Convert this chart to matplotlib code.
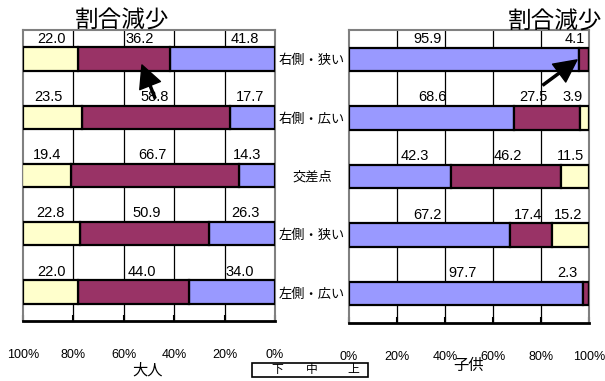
import matplotlib
matplotlib.use("Agg")
import matplotlib.pyplot as plt
from matplotlib.patches import Rectangle

plt.rcParams["font.family"] = ["Liberation Sans", "Noto Sans CJK JP"]

# ── DATA ──────────────────────────────────────────────────────────────────────
CATEGORIES = ["右側・狭い", "右側・広い", "交差点", "左側・狭い", "左側・広い"]

# 大人 (下 / 中 / 上)
ADULT_LOW  = [22.0, 23.5, 19.4, 22.8, 22.0]
ADULT_MID  = [36.2, 58.8, 66.7, 50.9, 44.0]
ADULT_HIGH = [41.8, 17.7, 14.3, 26.3, 34.0]

# 子供 (下 / 中 / 上)
CHILD_LOW  = [0.0, 3.9, 11.5, 15.2, 0.0]
CHILD_MID  = [4.1, 27.5, 46.2, 17.4, 2.3]
CHILD_HIGH = [95.9, 68.6, 42.3, 67.2, 97.7]

X_TICKS = [0, 20, 40, 60, 80, 100]
LEGEND_LABELS = ["下", "中", "上"]

# ── LAYOUT (label positions in % as placed by hand in the original) ─────────
ADULT_LABEL_X = [[88.5, 53.6, 11.9], [90.0, 47.6, 9.9], [90.5, 48.8, 11.1],
                 [89.3, 50.8, 11.9], [88.5, 52.8, 13.9]]      # low, mid, high
CHILD_LABEL_X = [[None, 94.2, 32.9], [93.3, 76.7, 34.6], [92.1, 66.3, 27.5],
                 [91.3, 74.6, 32.5], [None, 90.8, 47.5]]      # low, mid, high
LABEL_DY = -0.35

C_LOW  = "#FFFFCC"
C_MID  = "#993366"
C_HIGH = "#9999FF"
FRAME  = "#808080"

W, H = 605, 381
fig = plt.figure(figsize=(W / 100, H / 100), dpi=100)


def px_axes(x0, y0, x1, y1):
    return fig.add_axes([x0 / W, 1 - y1 / H, (x1 - x0) / W, (y1 - y0) / H])


def draw_panel(ax, low, mid, high, label_x, invert):
    y = range(len(CATEGORIES))
    kw = dict(height=0.4, edgecolor="black", linewidth=1.6, zorder=3)
    ax.barh(y, high, left=0, color=C_HIGH, **kw)
    ax.barh(y, mid, left=high, color=C_MID, **kw)
    ax.barh(y, low, left=[h + m for h, m in zip(high, mid)], color=C_LOW, **kw)

    for i in y:
        for val, lx in zip((low[i], mid[i], high[i]), label_x[i]):
            if lx is None or val == 0:
                continue
            ax.text(lx, i + LABEL_DY, f"{val:.1f}", ha="center", va="center",
                    fontsize=10.5, zorder=4)

    ax.set_ylim(len(CATEGORIES) - 0.5, -0.5)
    ax.set_xlim((100, 0) if invert else (0, 100))
    ax.set_yticks([])
    ax.set_xticks(X_TICKS)
    ax.set_xticklabels([f"{t}%" for t in X_TICKS], fontsize=9)
    ax.tick_params(axis="x", direction="in", length=4, width=1.5, pad=20)
    for t in X_TICKS[1:-1]:
        ax.axvline(t, color="black", linewidth=0.9, zorder=1)
    for side in ("left", "right", "top"):
        ax.spines[side].set_color(FRAME)
        ax.spines[side].set_linewidth(1.5)
    ax.spines["bottom"].set_color("black")
    ax.spines["bottom"].set_linewidth(2)


ax_l = px_axes(23, 30, 275, 321)
draw_panel(ax_l, ADULT_LOW, ADULT_MID, ADULT_HIGH, ADULT_LABEL_X, invert=True)

ax_r = px_axes(349, 30, 589, 323)
draw_panel(ax_r, CHILD_LOW, CHILD_MID, CHILD_HIGH, CHILD_LABEL_X, invert=False)

# category names between the panels
for i, name in enumerate(CATEGORIES):
    ycen = 30 + 58.3 * (i + 0.5) + 2
    fig.text(312 / W, 1 - ycen / H, name, ha="center", va="center", fontsize=9.5)

# titles and axis names
fig.text(122 / W, 1 - 22 / H, "割合減少", ha="center", va="center", fontsize=17)
fig.text(555 / W, 1 - 23 / H, "割合減少", ha="center", va="center", fontsize=17)
fig.text(148 / W, 1 - 370 / H, "大人", ha="center", va="center", fontsize=11)
fig.text(468 / W, 1 - 366 / H, "子供", ha="center", va="center", fontsize=11)

# legend box (text only)
fig.patches.append(Rectangle((252 / W, 1 - 377 / H), 116 / W, 14 / H,
                             transform=fig.transFigure, facecolor="white",
                             edgecolor="black", linewidth=1.2))
for lbl, lx in zip(LEGEND_LABELS, (277, 312, 353)):
    fig.text(lx / W, 1 - 370 / H, lbl, ha="center", va="center", fontsize=8.5)

# arrows
arrow = dict(facecolor="black", edgecolor="black", width=1.5,
             headwidth=16, headlength=16, shrink=0)
ax_l.annotate("", xy=(52.8, 0.10), xytext=(47.6, 0.67), arrowprops=arrow,
              zorder=5)
ax_r.annotate("", xy=(95.0, 0.01), xytext=(80.8, 0.44), arrowprops=arrow,
              zorder=5)

fig.savefig("out.png", dpi=100)
